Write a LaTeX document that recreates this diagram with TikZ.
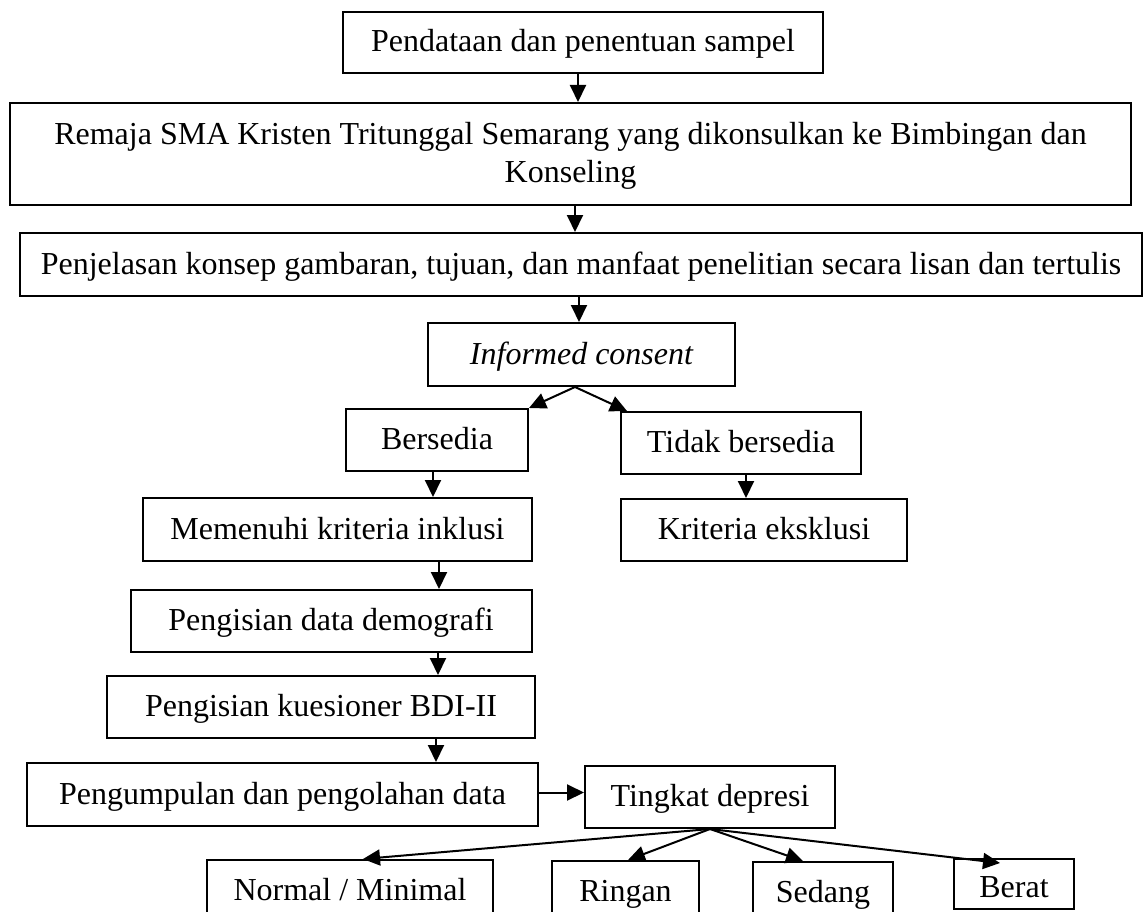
\documentclass[tikz,border=0pt]{standalone}
\usepackage{fontspec}
\setmainfont{Liberation Serif}
\usetikzlibrary{arrows.meta}
\begin{document}
\begin{tikzpicture}[x=1pt,y=-1pt,
  box/.style={draw, line width=2pt, inner sep=0pt, align=center,
    font=\fontsize{32}{38}\selectfont, text height=21pt, text depth=2pt},
  arr/.style={line width=2pt, -{Triangle[length=17pt,width=16pt]}}]
\useasboundingbox (0,0) rectangle (1145,912);
\node[box, minimum width=480pt, minimum height=61pt] (pend) at (583,42.5) {Pendataan dan penentuan sampel};
\node[box, minimum width=1121pt, minimum height=102pt, text height=59pt] (remaja) at (570.5,154) {Remaja SMA Kristen Tritunggal Semarang yang dikonsulkan ke Bimbingan dan\\Konseling};
\node[box, minimum width=1122pt, minimum height=63pt] (penj) at (581,264.5) {Penjelasan konsep gambaran, tujuan, dan manfaat penelitian secara lisan dan tertulis};
\node[box, minimum width=307pt, minimum height=63pt] (inf) at (581.5,354.5) {\itshape Informed consent};
\node[box, minimum width=182pt, minimum height=62pt] (bers) at (437,440) {Bersedia};
\node[box, minimum width=240pt, minimum height=62pt] (tidak) at (741,443) {Tidak bersedia};
\node[box, minimum width=389pt, minimum height=63pt] (memenuhi) at (337.5,529.5) {Memenuhi kriteria inklusi};
\node[box, minimum width=286pt, minimum height=62pt] (kriteria) at (764,530) {Kriteria eksklusi};
\node[box, minimum width=401pt, minimum height=62pt] (demog) at (331,621) {Pengisian data demografi};
\node[box, minimum width=428pt, minimum height=62pt] (bdi) at (321,707) {Pengisian kuesioner BDI-II};
\node[box, minimum width=511pt, minimum height=63pt] (peng) at (282.5,794.5) {Pengumpulan dan pengolahan data};
\node[box, minimum width=250pt, minimum height=62pt] (tingkat) at (710,797) {Tingkat depresi};
\node[box, minimum width=286pt, minimum height=62pt] (normal) at (350,891) {Normal / Minimal};
\node[box, minimum width=147pt, minimum height=62pt] (ringan) at (625.5,892) {Ringan};
\node[box, minimum width=140pt, minimum height=62pt] (sedang) at (823,893) {Sedang};
\node[box, minimum width=120pt, minimum height=50pt, text height=29pt] (berat) at (1014,884) {Berat};

\draw[arr] ([xshift=-5pt]pend.south) -- ([xshift=-5pt]pend.south |- remaja.north);
\draw[arr] ([xshift=4.5pt]remaja.south) -- ([xshift=4.5pt]remaja.south |- penj.north);
\draw[arr] ([xshift=-2pt]penj.south) -- ([xshift=-2pt]penj.south |- inf.north);
\draw[arr] ([xshift=-6.5pt]inf.south) -- (bers.north east);
\draw[arr] ([xshift=-6.5pt]inf.south) -- ([xshift=7pt]tidak.north west);
\draw[arr] ([xshift=-4pt]bers.south) -- ([xshift=-4pt]bers.south |- memenuhi.north);
\draw[arr] ([xshift=5pt]tidak.south) -- ([xshift=5pt]tidak.south |- kriteria.north);
\draw[arr] ([xshift=101.5pt]memenuhi.south) -- ([xshift=101.5pt]memenuhi.south |- demog.north);
\draw[arr] ([xshift=107pt]demog.south) -- ([xshift=107pt]demog.south |- bdi.north);
\draw[arr] ([xshift=115pt]bdi.south) -- ([xshift=115pt]bdi.south |- peng.north);
\draw[arr] ([yshift=2pt]peng.east) -- ([yshift=2pt]peng.east -| tingkat.west);
\draw[arr] (tingkat.south) -- ([xshift=13pt]normal.north);
\draw[arr] (tingkat.south) -- ([xshift=2.5pt]ringan.north);
\draw[arr] (tingkat.south) -- ([xshift=-20pt]sedang.north);
\draw[arr] (tingkat.south) -- ([xshift=-14pt,yshift=-5pt]berat.north);
\end{tikzpicture}
\end{document}
